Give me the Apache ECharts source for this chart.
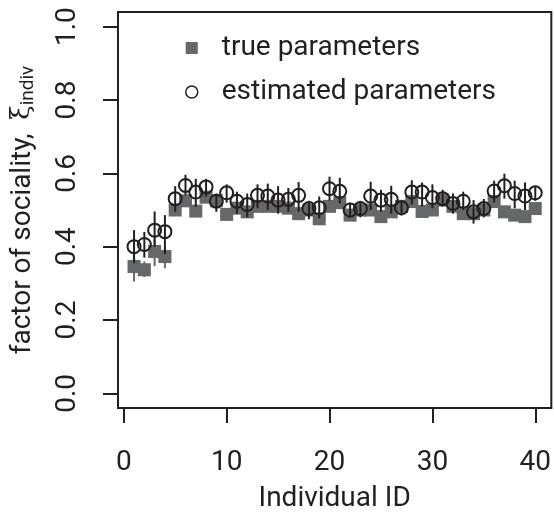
<!DOCTYPE html>
<html>
<head>
<meta charset="utf-8">
<script src="https://cdn.jsdelivr.net/npm/echarts@6/dist/echarts.min.js"></script>
<style>
  html, body { margin: 0; padding: 0; background: #fff; }
  #chart { width: 554px; height: 518px; }
</style>
</head>
<body>
<div id="chart"></div>
<script>
// individual IDs 1..40
var ids = [1,2,3,4,5,6,7,8,9,10,11,12,13,14,15,16,17,18,19,20,
           21,22,23,24,25,26,27,28,29,30,31,32,33,34,35,36,37,38,39,40];

// true parameters (grey squares)
var trueVals = [0.346,0.337,0.387,0.373,0.500,0.525,0.497,0.535,0.525,0.488,
                0.505,0.495,0.510,0.510,0.510,0.505,0.490,0.500,0.476,0.510,
                0.520,0.486,0.500,0.500,0.482,0.495,0.510,0.523,0.496,0.500,
                0.527,0.510,0.490,0.490,0.500,0.523,0.495,0.486,0.482,0.504];

// estimated parameters (open circles) and their intervals
var estVals = [0.400,0.406,0.445,0.441,0.531,0.567,0.549,0.563,0.524,0.547,
               0.524,0.515,0.540,0.538,0.527,0.529,0.540,0.504,0.506,0.558,
               0.551,0.500,0.504,0.538,0.527,0.529,0.506,0.549,0.549,0.534,
               0.531,0.518,0.524,0.495,0.504,0.552,0.566,0.545,0.538,0.547];
var estLo = [0.355,0.370,0.400,0.380,0.495,0.540,0.509,0.537,0.495,0.520,
             0.490,0.480,0.505,0.500,0.490,0.495,0.495,0.475,0.477,0.526,
             0.518,0.480,0.480,0.500,0.495,0.490,0.485,0.515,0.510,0.505,
             0.510,0.490,0.500,0.463,0.480,0.520,0.531,0.505,0.500,0.525];
var estHi = [0.445,0.440,0.496,0.486,0.565,0.596,0.585,0.585,0.545,0.570,
             0.550,0.545,0.570,0.572,0.565,0.560,0.576,0.525,0.537,0.591,
             0.588,0.520,0.525,0.577,0.555,0.566,0.525,0.581,0.575,0.570,
             0.555,0.545,0.550,0.527,0.530,0.580,0.599,0.580,0.575,0.565];

// grey whiskers visible under the first squares
var trueBarIds = [1,2,3,4];
var trueBarLo = [0.305,0.317,0.347,0.341];
var trueBarHi = [0.380,0.360,0.420,0.400];

var xTicks = [0,10,20,30,40];
var yTicks = [0,0.2,0.4,0.6,0.8,1.0];

var ink = '#231f20';
var grey = '#666769';
var font = 'Roboto';
var fs = 28;

function barItem(color) {
  return function (params, api) {
    var a = api.coord([api.value(0), api.value(1)]);
    var b = api.coord([api.value(0), api.value(2)]);
    return {
      type: 'line',
      shape: { x1: a[0], y1: a[1], x2: b[0], y2: b[1] },
      style: { stroke: color, lineWidth: 2 }
    };
  };
}

var chart = echarts.init(document.getElementById('chart'));

var option = {
  animation: false,
  textStyle: { fontFamily: font, color: ink },
  grid: {
    left: 118, top: 12, right: -3, bottom: 106,
    show: true, borderColor: ink, borderWidth: 2, backgroundColor: 'transparent'
  },
  legend: {
    data: [
      { name: 'true parameters' },
      { name: 'estimated parameters', itemStyle: { borderWidth: 1.5 } }
    ],
    orient: 'vertical',
    left: 180, top: 29,
    itemWidth: 12, itemHeight: 12, itemGap: 16,
    textStyle: { fontFamily: font, fontSize: fs, color: ink, padding: [0, 0, 0, 19] }
  },
  xAxis: {
    type: 'value', min: -0.56, max: 41.56,
    splitLine: { show: false },
    axisLine: { show: true, onZero: false, lineStyle: { color: ink, width: 2 } },
    axisTick: { show: true, inside: false, length: 15, lineStyle: { color: ink, width: 2 }, customValues: xTicks },
    axisLabel: { margin: 41, fontSize: fs, color: ink, fontFamily: font, customValues: xTicks },
    name: 'Individual ID', nameLocation: 'middle', nameGap: 77,
    nameTextStyle: { fontSize: fs, color: ink, fontFamily: font }
  },
  yAxis: {
    type: 'value', min: -0.04, max: 1.04,
    splitLine: { show: false },
    axisLine: { show: true, onZero: false, lineStyle: { color: ink, width: 2 } },
    axisTick: { show: true, inside: false, length: 15, lineStyle: { color: ink, width: 2 }, customValues: yTicks },
    axisLabel: {
      margin: 36, fontSize: fs, color: ink, fontFamily: font, rotate: 90,
      customValues: yTicks,
      formatter: function (v) { return v.toFixed(1); }
    },
    name: 'factor of sociality,  {xi|ξ}{sub|indiv}',
    nameLocation: 'middle', nameGap: 80, nameRotate: 90,
    nameTextStyle: {
      fontSize: fs, color: ink, fontFamily: font,
      rich: {
        xi: { fontSize: 26, fontFamily: 'DejaVu Serif', color: ink },
        sub: { fontSize: 19, color: ink, fontFamily: font, padding: [12, 0, 0, 0] }
      }
    }
  },
  series: [
    {
      name: 'trueBars', type: 'custom', z: 1, silent: true,
      renderItem: barItem(grey),
      encode: { x: 0, y: [1, 2] },
      data: trueBarIds.map(function (id, i) { return [id, trueBarLo[i], trueBarHi[i]]; })
    },
    {
      name: 'true parameters', type: 'scatter', z: 2,
      symbol: 'rect', symbolSize: 13,
      itemStyle: { color: grey, opacity: 1 },
      data: ids.map(function (id, i) { return [id, trueVals[i]]; })
    },
    {
      name: 'estBars', type: 'custom', z: 3, silent: true,
      renderItem: barItem(ink),
      encode: { x: 0, y: [1, 2] },
      data: ids.map(function (id, i) { return [id, estLo[i], estHi[i]]; })
    },
    {
      name: 'estimated parameters', type: 'scatter', z: 4,
      symbol: 'circle', symbolSize: 13,
      itemStyle: { color: 'rgba(255,255,255,0)', borderColor: ink, borderWidth: 2, opacity: 1 },
      data: ids.map(function (id, i) { return [id, estVals[i]]; })
    }
  ]
};

chart.setOption(option);
</script>
</body>
</html>
